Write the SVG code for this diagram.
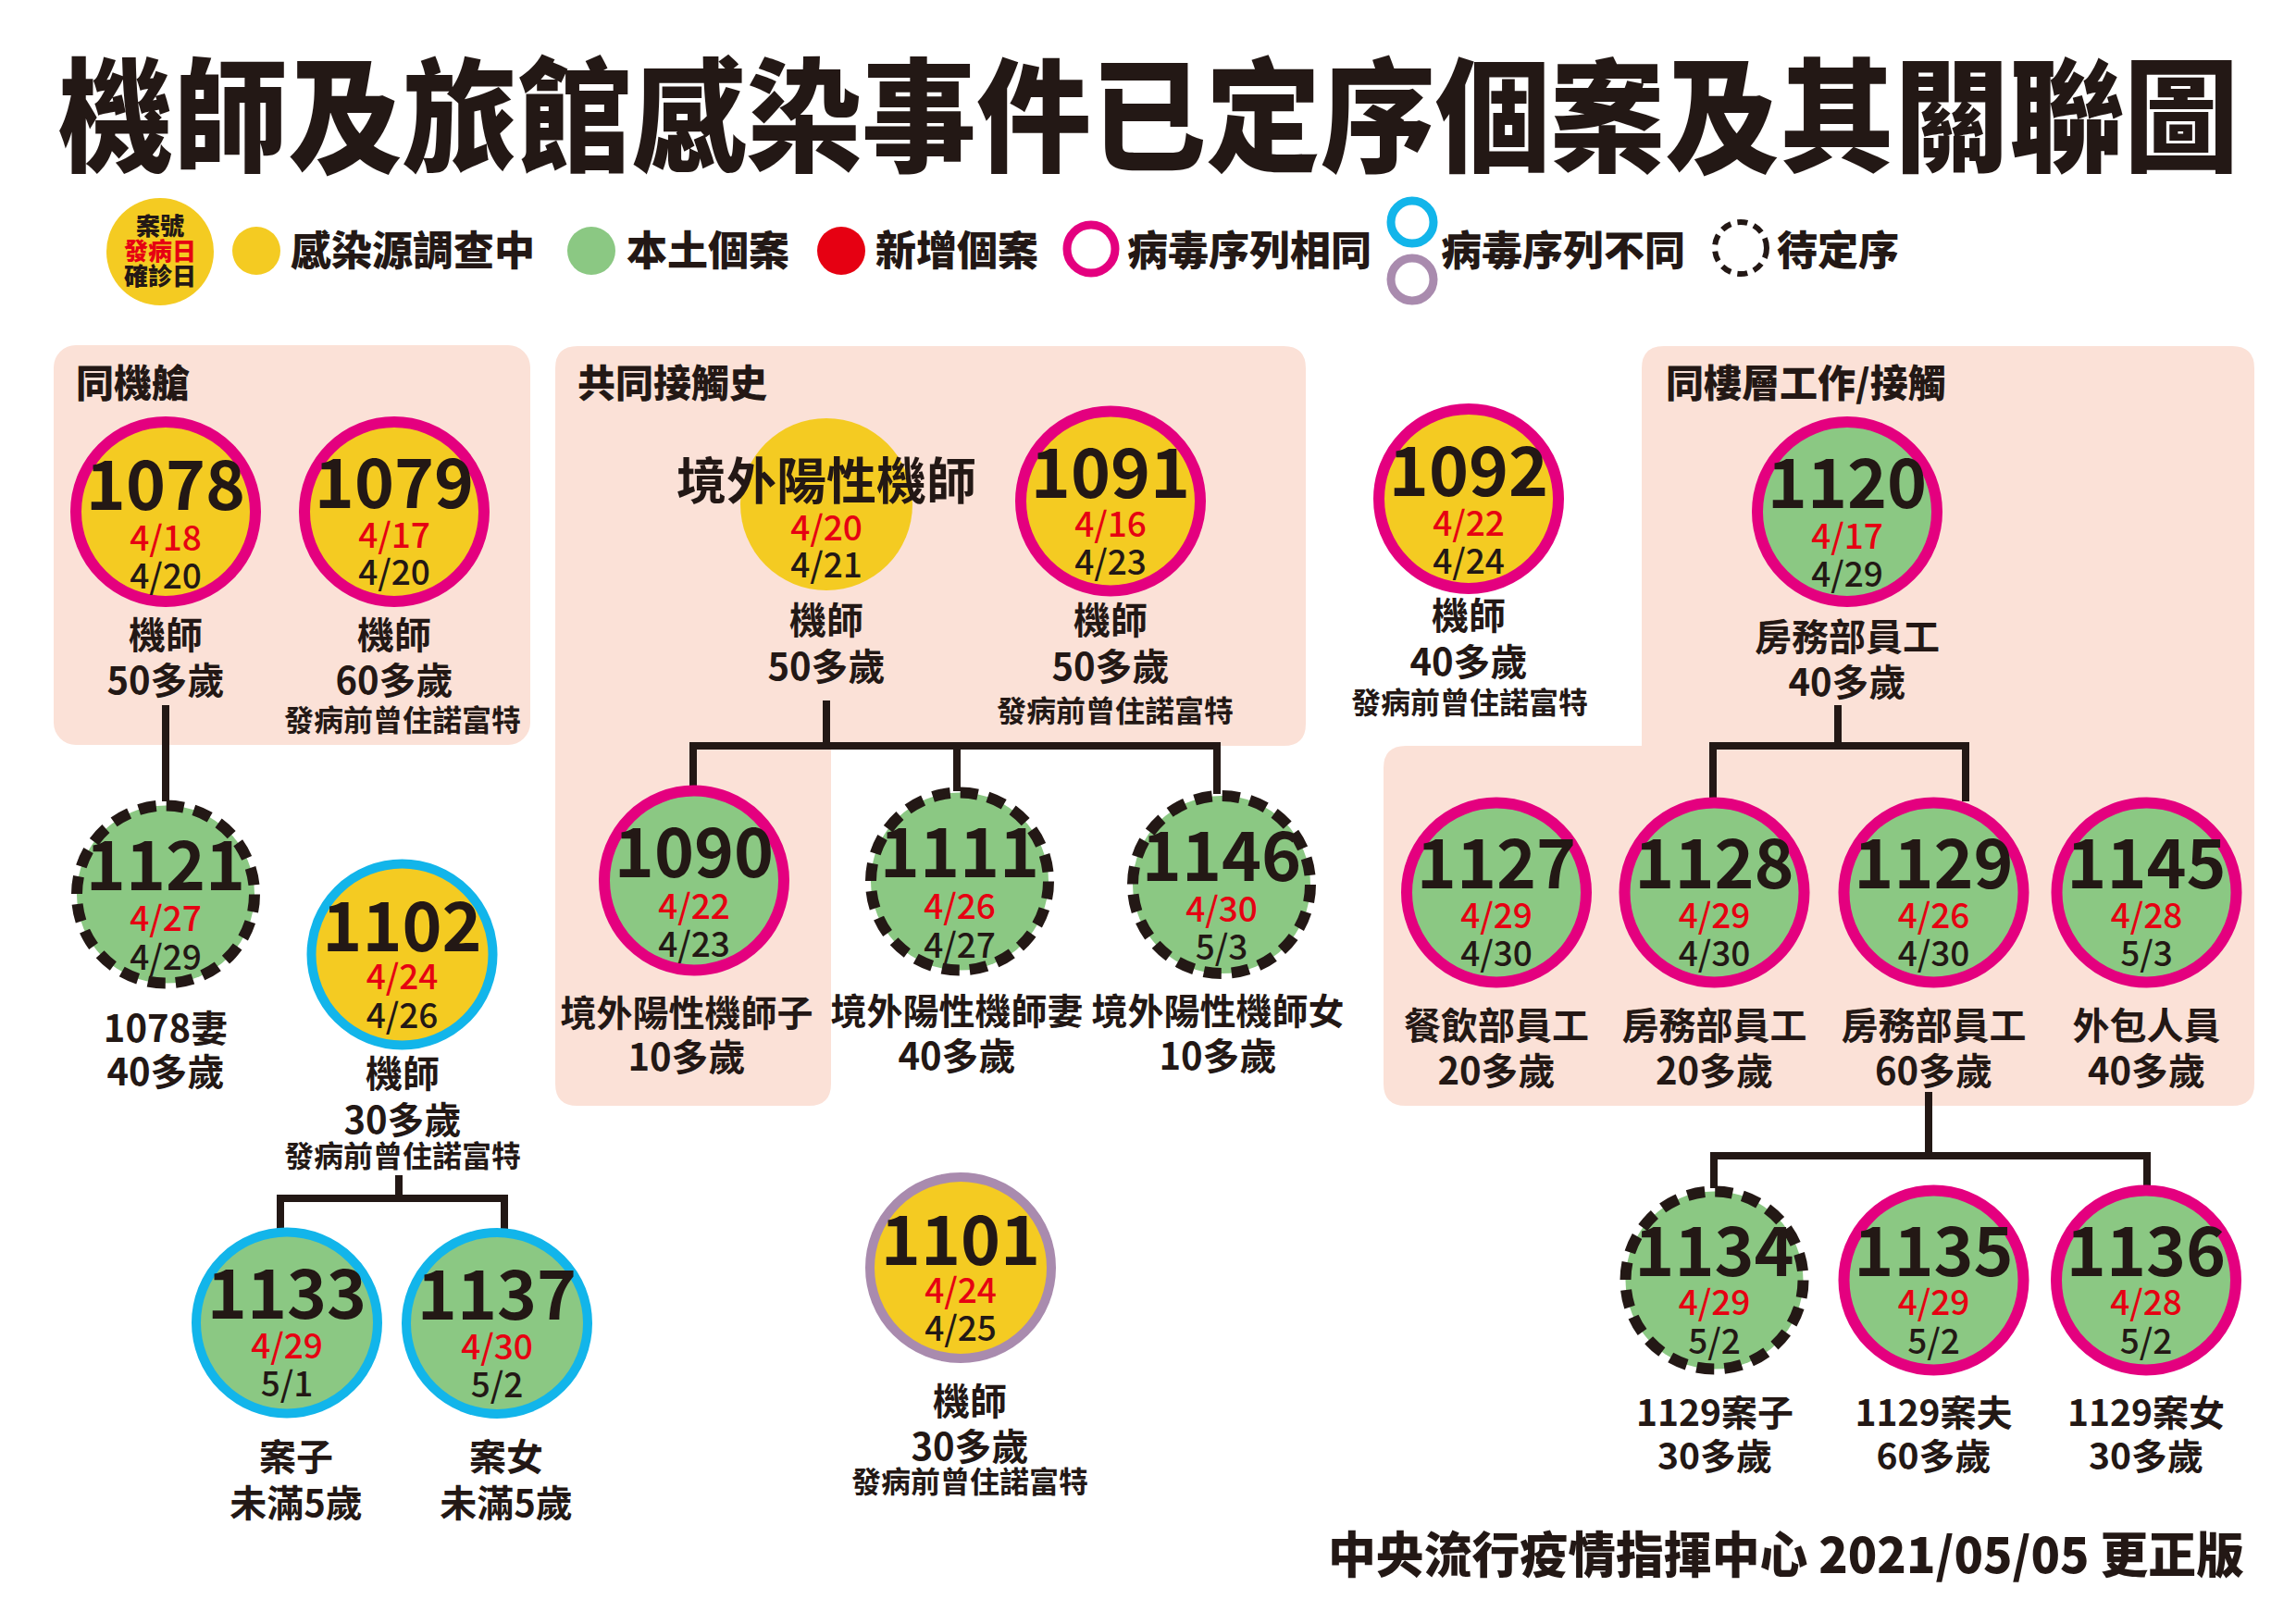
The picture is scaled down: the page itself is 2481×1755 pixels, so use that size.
<svg xmlns="http://www.w3.org/2000/svg" width="2481" height="1755" viewBox="0 0 2481 1755">
<style>
text{font-family:"Noto Sans CJK TC","Noto Sans CJK SC",sans-serif;fill:#231815;text-anchor:middle}
.title{font-size:124px;font-weight:900;text-anchor:start}
.lg{font-size:44px;font-weight:900;text-anchor:start}
.bd{font-size:26px;font-weight:900}
.pt{font-size:41px;font-weight:900;text-anchor:start}
.num{font-size:73px;font-weight:700}
.big{font-size:54px;font-weight:700}
.r{font-size:37px;font-weight:500;fill:#E60012}
.k{font-size:37px;font-weight:500}
.lb{font-size:40px;font-weight:700}
.lb2{font-size:39px;font-weight:700}
.sm{font-size:32px;font-weight:700}
.ft{font-size:53px;font-weight:900;text-anchor:end}
.panel{fill:#FBE1D7}
.yel{fill:#F4CB22}
.grn{fill:#8BC883}
.pink{stroke:#E4007F;stroke-width:12}
.blue{stroke:#12B5EA;stroke-width:10}
.purp{stroke:#A98BAE;stroke-width:10}
.dash{stroke:#231815;stroke-width:12;stroke-dasharray:19 11.16}
.con{fill:none;stroke:#231815;stroke-width:8}
</style>

<text class="title" transform="translate(63,175) scale(1,1.07)" x="0" y="0">機師及旅館感染事件已定序個案及其關聯圖</text>

<g id="legend">
  <circle cx="173" cy="272" r="58" fill="#F4CB22"/>
  <text class="bd" x="173" y="254">案號</text>
  <text class="bd" x="173" y="281" style="fill:#E60012">發病日</text>
  <text class="bd" x="173" y="308">確診日</text>
  <circle cx="277" cy="271" r="26" fill="#F4CB22"/>
  <text class="lg" x="314" y="287">感染源調查中</text>
  <circle cx="639" cy="271" r="26" fill="#8BC883"/>
  <text class="lg" x="677" y="287">本土個案</text>
  <circle cx="909" cy="271" r="26" fill="#E60012"/>
  <text class="lg" x="946" y="287">新增個案</text>
  <circle cx="1179" cy="269" r="26" fill="none" stroke="#E4007F" stroke-width="9"/>
  <text class="lg" x="1218" y="287">病毒序列相同</text>
  <circle cx="1526" cy="240" r="23" fill="none" stroke="#12B5EA" stroke-width="9"/>
  <circle cx="1526" cy="302" r="23" fill="none" stroke="#A98BAE" stroke-width="9"/>
  <text class="lg" x="1557" y="287">病毒序列不同</text>
  <circle cx="1881" cy="268" r="28" fill="none" stroke="#231815" stroke-width="6" stroke-dasharray="11 7.3"/>
  <text class="lg" x="1920" y="287">待定序</text>
</g>

<g id="panels">
  <rect class="panel" x="58" y="373" width="515" height="432" rx="24"/>
  <path class="panel" d="M624,374 H1387 Q1411,374 1411,398 V782 Q1411,806 1387,806 H898 V1171 Q898,1195 874,1195 H624 Q600,1195 600,1171 V398 Q600,374 624,374 Z"/>
  <path class="panel" d="M1798,374 H2412 Q2436,374 2436,398 V1171 Q2436,1195 2412,1195 H1519 Q1495,1195 1495,1171 V830 Q1495,806 1519,806 H1774 V398 Q1774,374 1798,374 Z"/>
  <text class="pt" x="82" y="429">同機艙</text>
  <text class="pt" x="624" y="429">共同接觸史</text>
  <text class="pt" x="1800" y="429">同樓層工作/接觸</text>
</g>

<g id="connectors">
  <path class="con" d="M179,762 V866"/>
  <path class="con" d="M893,757 V806"/>
  <path class="con" d="M749,850 V806 H1315 V858"/>
  <path class="con" d="M1034,806 V855"/>
  <path class="con" d="M1986,762 V806"/>
  <path class="con" d="M1851,862 V806 H2124 V866"/>
  <path class="con" d="M431,1270 V1295"/>
  <path class="con" d="M303,1328 V1295 H545 V1328"/>
  <path class="con" d="M2084,1180 V1249"/>
  <path class="con" d="M1852,1284 V1249 H2320 V1282"/>
</g>

<g id="n1078">
  <circle class="yel pink" cx="179" cy="553" r="97"/>
  <text class="num" x="179" y="551">1078</text>
  <text class="r" x="179" y="595">4/18</text>
  <text class="k" x="179" y="636">4/20</text>
  <text class="lb" x="179" y="701">機師</text>
  <text class="lb" x="179" y="750">50多歲</text>
</g>
<g id="n1079">
  <circle class="yel pink" cx="426" cy="553" r="97"/>
  <text class="num" x="426" y="549">1079</text>
  <text class="r" x="426" y="592">4/17</text>
  <text class="k" x="426" y="632">4/20</text>
  <text class="lb" x="426" y="701">機師</text>
  <text class="lb" x="426" y="750">60多歲</text>
  <text class="sm" x="435" y="790">發病前曾住諾富特</text>
</g>
<g id="nForeign">
  <circle class="yel" cx="893" cy="545" r="93"/>
  <text class="big" x="893" y="540">境外陽性機師</text>
  <text class="r" x="893" y="584">4/20</text>
  <text class="k" x="893" y="624">4/21</text>
  <text class="lb" x="893" y="685">機師</text>
  <text class="lb" x="893" y="735">50多歲</text>
</g>
<g id="n1091">
  <circle class="yel pink" cx="1200" cy="541.5" r="97"/>
  <text class="num" x="1200" y="538">1091</text>
  <text class="r" x="1200" y="580">4/16</text>
  <text class="k" x="1200" y="621">4/23</text>
  <text class="lb" x="1200" y="685">機師</text>
  <text class="lb" x="1200" y="735">50多歲</text>
  <text class="sm" x="1205" y="780">發病前曾住諾富特</text>
</g>
<g id="n1092">
  <circle class="yel pink" cx="1587" cy="539" r="97"/>
  <text class="num" x="1587" y="536">1092</text>
  <text class="r" x="1587" y="579">4/22</text>
  <text class="k" x="1587" y="620">4/24</text>
  <text class="lb" x="1587" y="680">機師</text>
  <text class="lb" x="1587" y="730">40多歲</text>
  <text class="sm" x="1588" y="771">發病前曾住諾富特</text>
</g>
<g id="n1120">
  <circle class="grn pink" cx="1996" cy="553" r="97"/>
  <text class="num" x="1996" y="549">1120</text>
  <text class="r" x="1996" y="593">4/17</text>
  <text class="k" x="1996" y="634">4/29</text>
  <text class="lb" x="1996" y="703">房務部員工</text>
  <text class="lb" x="1996" y="752">40多歲</text>
</g>
<g id="n1121">
  <circle class="grn dash" cx="179" cy="966.5" r="96"/>
  <text class="num" x="179" y="962">1121</text>
  <text class="r" x="179" y="1006">4/27</text>
  <text class="k" x="179" y="1048">4/29</text>
  <text class="lb" x="179" y="1126">1078妻</text>
  <text class="lb" x="179" y="1173">40多歲</text>
</g>
<g id="n1102">
  <circle class="yel blue" cx="434.5" cy="1031.5" r="98"/>
  <text class="num" x="434.5" y="1028">1102</text>
  <text class="r" x="434.5" y="1069">4/24</text>
  <text class="k" x="434.5" y="1111">4/26</text>
  <text class="lb" x="435" y="1175">機師</text>
  <text class="lb" x="435" y="1225">30多歲</text>
  <text class="sm" x="435" y="1261">發病前曾住諾富特</text>
</g>
<g id="n1090">
  <circle class="grn pink" cx="750" cy="951.5" r="97"/>
  <text class="num" x="750" y="948">1090</text>
  <text class="r" x="750" y="993">4/22</text>
  <text class="k" x="750" y="1034">4/23</text>
  <text class="lb2" x="742" y="1109">境外陽性機師子</text>
  <text class="lb" x="742" y="1157">10多歲</text>
</g>
<g id="n1111">
  <circle class="grn dash" cx="1037" cy="952.5" r="96"/>
  <text class="num" x="1037" y="948">1111</text>
  <text class="r" x="1037" y="993">4/26</text>
  <text class="k" x="1037" y="1035">4/27</text>
  <text class="lb2" x="1034" y="1107">境外陽性機師妻</text>
  <text class="lb" x="1034" y="1156">40多歲</text>
</g>
<g id="n1146">
  <circle class="grn dash" cx="1320" cy="956" r="96"/>
  <text class="num" x="1320" y="952">1146</text>
  <text class="r" x="1320" y="996">4/30</text>
  <text class="k" x="1320" y="1037">5/3</text>
  <text class="lb2" x="1316" y="1107">境外陽性機師女</text>
  <text class="lb" x="1316" y="1156">10多歲</text>
</g>
<g id="n1127">
  <circle class="grn pink" cx="1617" cy="964.5" r="97"/>
  <text class="num" x="1617" y="960">1127</text>
  <text class="r" x="1617" y="1003">4/29</text>
  <text class="k" x="1617" y="1044">4/30</text>
  <text class="lb" x="1617" y="1123">餐飲部員工</text>
  <text class="lb" x="1617" y="1172">20多歲</text>
</g>
<g id="n1128">
  <circle class="grn pink" cx="1852.5" cy="964.5" r="97"/>
  <text class="num" x="1852.5" y="960">1128</text>
  <text class="r" x="1852.5" y="1003">4/29</text>
  <text class="k" x="1852.5" y="1044">4/30</text>
  <text class="lb" x="1852.5" y="1123">房務部員工</text>
  <text class="lb" x="1852.5" y="1172">20多歲</text>
</g>
<g id="n1129">
  <circle class="grn pink" cx="2089.5" cy="964.5" r="97"/>
  <text class="num" x="2089.5" y="960">1129</text>
  <text class="r" x="2089.5" y="1003">4/26</text>
  <text class="k" x="2089.5" y="1044">4/30</text>
  <text class="lb" x="2089.5" y="1123">房務部員工</text>
  <text class="lb" x="2089.5" y="1172">60多歲</text>
</g>
<g id="n1145">
  <circle class="grn pink" cx="2319.5" cy="964.5" r="97"/>
  <text class="num" x="2319.5" y="960">1145</text>
  <text class="r" x="2319.5" y="1003">4/28</text>
  <text class="k" x="2319.5" y="1044">5/3</text>
  <text class="lb" x="2319.5" y="1123">外包人員</text>
  <text class="lb" x="2319.5" y="1172">40多歲</text>
</g>
<g id="n1133">
  <circle class="grn blue" cx="310" cy="1429.5" r="98"/>
  <text class="num" x="310" y="1425">1133</text>
  <text class="r" x="310" y="1468">4/29</text>
  <text class="k" x="310" y="1509">5/1</text>
  <text class="lb" x="320" y="1589">案子</text>
  <text class="lb" x="320" y="1639">未滿5歲</text>
</g>
<g id="n1137">
  <circle class="grn blue" cx="537" cy="1430" r="98"/>
  <text class="num" x="537" y="1426">1137</text>
  <text class="r" x="537" y="1469">4/30</text>
  <text class="k" x="537" y="1510">5/2</text>
  <text class="lb" x="547" y="1589">案女</text>
  <text class="lb" x="547" y="1639">未滿5歲</text>
</g>
<g id="n1101">
  <circle class="yel purp" cx="1038" cy="1370" r="98"/>
  <text class="num" x="1038" y="1367">1101</text>
  <text class="r" x="1038" y="1408">4/24</text>
  <text class="k" x="1038" y="1449">4/25</text>
  <text class="lb" x="1048" y="1529">機師</text>
  <text class="lb" x="1048" y="1578">30多歲</text>
  <text class="sm" x="1048" y="1613">發病前曾住諾富特</text>
</g>
<g id="n1134">
  <circle class="grn dash" cx="1852.5" cy="1383.5" r="96"/>
  <text class="num" x="1852.5" y="1379">1134</text>
  <text class="r" x="1852.5" y="1421">4/29</text>
  <text class="k" x="1852.5" y="1463">5/2</text>
  <text class="lb2" x="1853" y="1541">1129案子</text>
  <text class="lb2" x="1853" y="1588">30多歲</text>
</g>
<g id="n1135">
  <circle class="grn pink" cx="2089.5" cy="1383.5" r="97"/>
  <text class="num" x="2089.5" y="1379">1135</text>
  <text class="r" x="2089.5" y="1421">4/29</text>
  <text class="k" x="2089.5" y="1463">5/2</text>
  <text class="lb2" x="2089.5" y="1541">1129案夫</text>
  <text class="lb2" x="2089.5" y="1588">60多歲</text>
</g>
<g id="n1136">
  <circle class="grn pink" cx="2319" cy="1383.5" r="97"/>
  <text class="num" x="2319" y="1379">1136</text>
  <text class="r" x="2319" y="1421">4/28</text>
  <text class="k" x="2319" y="1463">5/2</text>
  <text class="lb2" x="2319" y="1541">1129案女</text>
  <text class="lb2" x="2319" y="1588">30多歲</text>
</g>

<text class="ft" x="2425" y="1700" textLength="990" lengthAdjust="spacingAndGlyphs">中央流行疫情指揮中心 2021/05/05 更正版</text>
</svg>
